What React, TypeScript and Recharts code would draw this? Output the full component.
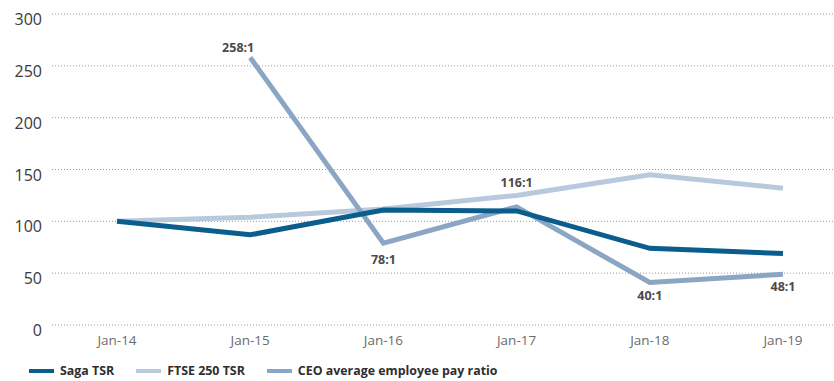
import React from 'react';
import { LineChart, Line, XAxis, YAxis, CartesianGrid, Legend, LabelList } from 'recharts';

const periods = ['Jan-14', 'Jan-15', 'Jan-16', 'Jan-17', 'Jan-18', 'Jan-19'];
const sagaTsr = [100, 87, 111, 110, 74, 69];
const ftseTsr = [100, 104, 112, 125, 145, 132];
const payRatio: (number | null)[] = [null, 258, 79, 114, 41, 49];
const ratioLabels = ['', '258:1', '78:1', '116:1', '40:1', '48:1'];
const yTicks = [0, 50, 100, 150, 200, 250, 300];

const SAGA = '#0b5d8e';
const FTSE = '#b9c9dd';
const CEO = '#8ba6c4';
const FONT = '"Open Sans", "DejaVu Sans", sans-serif';

// offset of each ratio label from its point (baseline), tuned by eye
const labelDx = [0, -12, 0, 0, 0, 0];
const labelDy = [0, -6, 21, -20, 18, 17];

const data = periods.map((p, i) => ({
  period: p,
  saga: sagaTsr[i],
  ftse: ftseTsr[i],
  ratio: payRatio[i],
  label: ratioLabels[i],
}));

const legendItems = [
  { name: 'Saga TSR', color: SAGA },
  { name: 'FTSE 250 TSR', color: FTSE },
  { name: 'CEO average employee pay ratio', color: CEO },
];

const YTick = (props: any) => {
  const { x, y, payload } = props;
  return (
    <text x={x} y={y} dy={11} textAnchor="end" fill="#3a3a3a" fontSize={16} fontFamily={FONT}>
      {payload.value}
    </text>
  );
};

const XTick = (props: any) => {
  const { x, y, payload } = props;
  return (
    <text x={x} y={y} dy={12} textAnchor="middle" fill="#6b6b6b" fontSize={13.5} fontFamily={FONT}>
      {payload.value}
    </text>
  );
};

const RatioLabel = (props: any) => {
  const { x, y, index, value } = props;
  if (!value) return null;
  return (
    <text
      x={x + labelDx[index]}
      y={y + labelDy[index]}
      textAnchor="middle"
      fill="#4a4a4a"
      fontSize={12.5}
      fontWeight={700}
      fontFamily={FONT}
    >
      {value}
    </text>
  );
};

const LegendContent = () => (
  <div style={{ display: 'flex', alignItems: 'center', paddingLeft: 29, paddingTop: 6, fontFamily: FONT, lineHeight: '16px' }}>
    {legendItems.map(item => (
      <div key={item.name} style={{ display: 'flex', alignItems: 'center', marginRight: 22 }}>
        <span style={{ display: 'inline-block', width: 25, height: 4, background: item.color, marginRight: 6 }} />
        <span style={{ fontSize: 12.4, fontWeight: 700, color: '#2e2e2e' }}>{item.name}</span>
      </div>
    ))}
  </div>
);

export default function App() {
  return (
    <div style={{ width: 834, height: 381, background: '#fff' }}>
      <style>{'body{margin:0}'}</style>
      <LineChart width={834} height={381} data={data} margin={{ top: 14, right: 0, left: 0, bottom: 0 }}>
        <CartesianGrid vertical={false} stroke="#9a9a9a" strokeDasharray="1 2" />
        <XAxis
          dataKey="period"
          axisLine={false}
          tickLine={false}
          padding={{ left: 65, right: 51 }}
          tick={<XTick />}
          height={32}
          interval={0}
        />
        <YAxis
          domain={[0, 300]}
          ticks={yTicks}
          axisLine={false}
          tickLine={false}
          width={52}
          tickMargin={4}
          tick={<YTick />}
        />
        <Legend
          verticalAlign="bottom"
          content={<LegendContent />}
          wrapperStyle={{ height: 24 }}
        />
        <Line dataKey="ftse" stroke={FTSE} strokeWidth={5} dot={false} isAnimationActive={false} />
        <Line dataKey="ratio" stroke={CEO} strokeWidth={5} dot={false} isAnimationActive={false}>
          <LabelList dataKey="label" content={<RatioLabel />} />
        </Line>
        <Line dataKey="saga" stroke={SAGA} strokeWidth={5} dot={false} isAnimationActive={false} />
      </LineChart>
    </div>
  );
}
